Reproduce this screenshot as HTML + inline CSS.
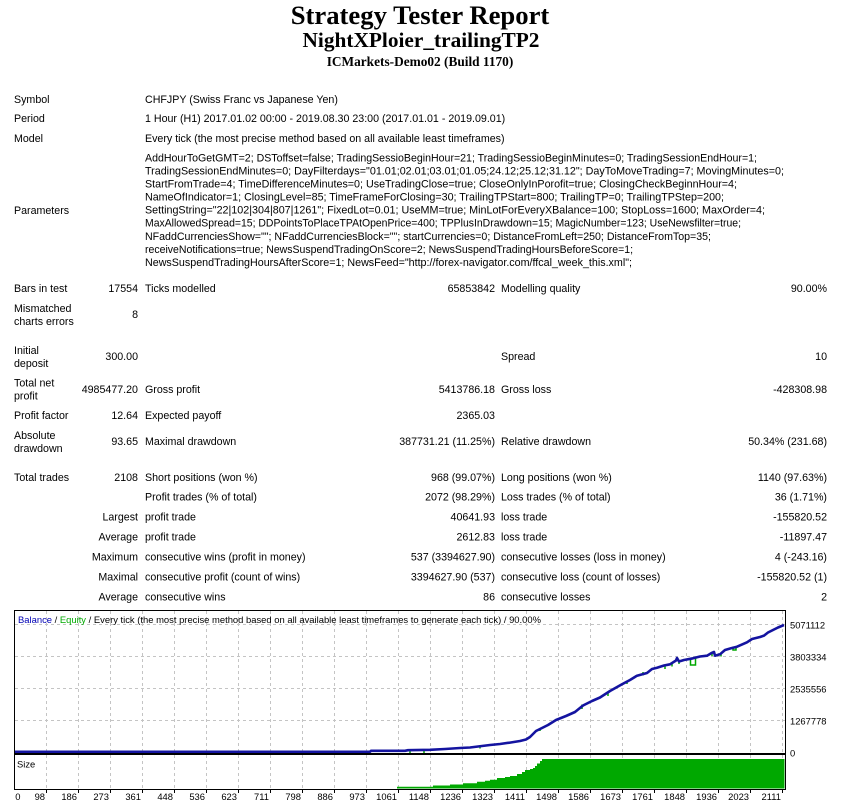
<!DOCTYPE html>
<html><head><meta charset="utf-8"><title>Strategy Tester Report</title>
<style>
html,body{margin:0;padding:0;background:#fff;}
svg{display:block;}
.t{font-family:"Liberation Sans",Arial,sans-serif;font-size:10.67px;fill:#000;}
.r{text-anchor:end;}
.c{font-family:"Liberation Sans",Arial,sans-serif;font-size:9.4px;fill:#000;}
.h{font-family:"Liberation Serif","Times New Roman",serif;font-weight:bold;fill:#000;text-anchor:middle;}
</style></head>
<body>
<svg width="853" height="805" viewBox="0 0 853 805" xmlns="http://www.w3.org/2000/svg">
<rect x="0" y="0" width="853" height="805" fill="#fff"/>
<text class="h" x="420" y="24" font-size="26.67">Strategy Tester Report</text>
<text class="h" x="421" y="47" font-size="21.33">NightXPloier_trailingTP2</text>
<text class="h" x="420" y="66" font-size="13.33">ICMarkets-Demo02 (Build 1170)</text>

<text class="t" x="14" y="103">Symbol</text>
<text class="t" x="145" y="103">CHFJPY (Swiss Franc vs Japanese Yen)</text>
<text class="t" x="14" y="122">Period</text>
<text class="t" x="145" y="122">1 Hour (H1) 2017.01.02 00:00 - 2019.08.30 23:00 (2017.01.01 - 2019.09.01)</text>
<text class="t" x="14" y="142">Model</text>
<text class="t" x="145" y="142">Every tick (the most precise method based on all available least timeframes)</text>

<text class="t" x="14" y="214">Parameters</text>
<text class="t" x="145" y="161.5" textLength="612" lengthAdjust="spacingAndGlyphs">AddHourToGetGMT=2; DSToffset=false; TradingSessioBeginHour=21; TradingSessioBeginMinutes=0; TradingSessionEndHour=1;</text>
<text class="t" x="145" y="174.5" textLength="639" lengthAdjust="spacingAndGlyphs">TradingSessionEndMinutes=0; DayFilterdays="01.01;02.01;03.01;01.05;24.12;25.12;31.12"; DayToMoveTrading=7; MovingMinutes=0;</text>
<text class="t" x="145" y="187.6" textLength="592" lengthAdjust="spacingAndGlyphs">StartFromTrade=4; TimeDifferenceMinutes=0; UseTradingClose=true; CloseOnlyInPorofit=true; ClosingCheckBeginnHour=4;</text>
<text class="t" x="145" y="200.6" textLength="579" lengthAdjust="spacingAndGlyphs">NameOfIndicator=1; ClosingLevel=85; TimeFrameForClosing=30; TrailingTPStart=800; TrailingTP=0; TrailingTPStep=200;</text>
<text class="t" x="145" y="213.7" textLength="620" lengthAdjust="spacingAndGlyphs">SettingString="22|102|304|807|1261"; FixedLot=0.01; UseMM=true; MinLotForEveryXBalance=100; StopLoss=1600; MaxOrder=4;</text>
<text class="t" x="145" y="226.7" textLength="596" lengthAdjust="spacingAndGlyphs">MaxAllowedSpread=15; DDPointsToPlaceTPAtOpenPrice=400; TPPlusInDrawdown=15; MagicNumber=123; UseNewsfilter=true;</text>
<text class="t" x="145" y="239.8" textLength="566" lengthAdjust="spacingAndGlyphs">NFaddCurrenciesShow=""; NFaddCurrenciesBlock=""; startCurrencies=0; DistanceFromLeft=250; DistanceFromTop=35;</text>
<text class="t" x="145" y="252.8" textLength="488" lengthAdjust="spacingAndGlyphs">receiveNotifications=true; NewsSuspendTradingOnScore=2; NewsSuspendTradingHoursBeforeScore=1;</text>
<text class="t" x="145" y="265.8" textLength="487" lengthAdjust="spacingAndGlyphs">NewsSuspendTradingHoursAfterScore=1; NewsFeed="http://forex-navigator.com/ffcal_week_this.xml";</text>

<!-- stats -->
<text class="t" x="14" y="292">Bars in test</text>
<text class="t r" x="138" y="292">17554</text>
<text class="t" x="145" y="292">Ticks modelled</text>
<text class="t r" x="495" y="292">65853842</text>
<text class="t" x="501" y="292">Modelling quality</text>
<text class="t r" x="827" y="292">90.00%</text>

<text class="t" x="14" y="312">Mismatched</text>
<text class="t" x="14" y="325">charts errors</text>
<text class="t r" x="138" y="318">8</text>

<text class="t" x="14" y="354">Initial</text>
<text class="t" x="14" y="367">deposit</text>
<text class="t r" x="138" y="360">300.00</text>
<text class="t" x="501" y="360">Spread</text>
<text class="t r" x="827" y="360">10</text>

<text class="t" x="14" y="386.5">Total net</text>
<text class="t" x="14" y="399.5">profit</text>
<text class="t r" x="138" y="393">4985477.20</text>
<text class="t" x="145" y="393">Gross profit</text>
<text class="t r" x="495" y="393">5413786.18</text>
<text class="t" x="501" y="393">Gross loss</text>
<text class="t r" x="827" y="393">-428308.98</text>

<text class="t" x="14" y="419">Profit factor</text>
<text class="t r" x="138" y="419">12.64</text>
<text class="t" x="145" y="419">Expected payoff</text>
<text class="t r" x="495" y="419">2365.03</text>

<text class="t" x="14" y="439">Absolute</text>
<text class="t" x="14" y="452">drawdown</text>
<text class="t r" x="138" y="445">93.65</text>
<text class="t" x="145" y="445">Maximal drawdown</text>
<text class="t r" x="495" y="445">387731.21 (11.25%)</text>
<text class="t" x="501" y="445">Relative drawdown</text>
<text class="t r" x="827" y="445">50.34% (231.68)</text>

<text class="t" x="14" y="481">Total trades</text>
<text class="t r" x="138" y="481">2108</text>
<text class="t" x="145" y="481">Short positions (won %)</text>
<text class="t r" x="495" y="481">968 (99.07%)</text>
<text class="t" x="501" y="481">Long positions (won %)</text>
<text class="t r" x="827" y="481">1140 (97.63%)</text>

<text class="t" x="145" y="500.7">Profit trades (% of total)</text>
<text class="t r" x="495" y="500.7">2072 (98.29%)</text>
<text class="t" x="501" y="500.7">Loss trades (% of total)</text>
<text class="t r" x="827" y="500.7">36 (1.71%)</text>

<text class="t r" x="138" y="520.7">Largest</text>
<text class="t" x="145" y="520.7">profit trade</text>
<text class="t r" x="495" y="520.7">40641.93</text>
<text class="t" x="501" y="520.7">loss trade</text>
<text class="t r" x="827" y="520.7">-155820.52</text>

<text class="t r" x="138" y="540.7">Average</text>
<text class="t" x="145" y="540.7">profit trade</text>
<text class="t r" x="495" y="540.7">2612.83</text>
<text class="t" x="501" y="540.7">loss trade</text>
<text class="t r" x="827" y="540.7">-11897.47</text>

<text class="t r" x="138" y="560.7">Maximum</text>
<text class="t" x="145" y="560.7">consecutive wins (profit in money)</text>
<text class="t r" x="495" y="560.7">537 (3394627.90)</text>
<text class="t" x="501" y="560.7">consecutive losses (loss in money)</text>
<text class="t r" x="827" y="560.7">4 (-243.16)</text>

<text class="t r" x="138" y="580.7">Maximal</text>
<text class="t" x="145" y="580.7">consecutive profit (count of wins)</text>
<text class="t r" x="495" y="580.7">3394627.90 (537)</text>
<text class="t" x="501" y="580.7">consecutive loss (count of losses)</text>
<text class="t r" x="827" y="580.7">-155820.52 (1)</text>

<text class="t r" x="138" y="600.3">Average</text>
<text class="t" x="145" y="600.3">consecutive wins</text>
<text class="t r" x="495" y="600.3">86</text>
<text class="t" x="501" y="600.3">consecutive losses</text>
<text class="t r" x="827" y="600.3">2</text>

<!-- chart grids -->
<g stroke="#c4c4c4" stroke-width="1" stroke-dasharray="3,3" shape-rendering="crispEdges" fill="none">
<path d="M15,624.5H785 M15,656.5H785 M15,688.5H785 M15,720.5H785"/>
<path d="M46.5,611V753 M78.5,611V753 M110.5,611V753 M142.5,611V753 M174.5,611V753 M206.5,611V753 M238.5,611V753 M270.5,611V753 M302.5,611V753 M334.5,611V753 M366.5,611V753 M398.5,611V753 M430.5,611V753 M462.5,611V753 M494.5,611V753 M526.5,611V753 M558.5,611V753 M590.5,611V753 M622.5,611V753 M654.5,611V753 M686.5,611V753 M718.5,611V753 M750.5,611V753 M782.5,611V753"/>
<path d="M46.5,755V789 M78.5,755V789 M110.5,755V789 M142.5,755V789 M174.5,755V789 M206.5,755V789 M238.5,755V789 M270.5,755V789 M302.5,755V789 M334.5,755V789 M366.5,755V789 M398.5,755V789 M430.5,755V789 M462.5,755V789 M494.5,755V789 M526.5,755V789 M558.5,755V789 M590.5,755V789 M622.5,755V789 M654.5,755V789 M686.5,755V789 M718.5,755V789 M750.5,755V789 M782.5,755V789"/>
</g>

<!-- size bars -->
<path fill="#00a800" d="M397,788.5 V786.7 H433 V785.5 H450 V784.5 H463 V783.3 H477 V781.8 H485 V780.8 H490 V779.8 H497 V778 H505 V777 H510 V776 H517 V774 H522 V772 H525 V770 H530 V769 H533 V768 H535 V766 H537 V763.5 H540 V761 H542 V759 H784.5 V788.5 Z"/>

<!-- equity excursions -->
<g stroke="#00a800" stroke-width="1.5" fill="none">
<path d="M410,751 v2.5 M424,751 v2.5 M480,745.5 v3 M540,728 v3 M582,704.5 v4.5 M608,693 v3 M627,681 v3 M643,672 v3.5 M665,664.5 v4.5 M672,663 v3.5 M679,661 v3 M690.5,658 v7 h5 v-7 M712,652 v4 M721,653.5 v3 M733,646.5 v3.5 h3 v-2"/>
</g>

<!-- balance -->
<polyline fill="none" stroke="#1414a0" stroke-width="2.6" stroke-linejoin="round" points="15,751.8 370,751.8 371,750.8 405,750.8 408,750.2 430,749.8 445,749 460,748 470,747.5 478,746.5 490,745 500,744 510,742.6 520,741 526,739.5 530,737 533,734 536,731 540,729 548,725 556,720 566,716 575,712 583,705.5 592,701 600,697.5 610,691 622,684.3 630,680 637,675.7 647,673 652,669 657,667.7 664,665.5 670,664.3 676,660.5 677,658 679,661.5 684,660 693,658.3 700,656.5 707,655.7 712,652.8 714,652 715,655.7 720,654.3 725,650 731,648.3 737,646.7 747,642.3 752,639 760,637 764,635.6 768,632.5 772,630.5 778,627.5 784,625"/>

<!-- frames -->
<g fill="none" stroke="#000" stroke-width="1" shape-rendering="crispEdges">
<rect x="14.5" y="610.5" width="771" height="143"/>
<rect x="14.5" y="754.5" width="771" height="35"/>
<path d="M46.5,790v3 M78.5,790v3 M110.5,790v3 M142.5,790v3 M174.5,790v3 M206.5,790v3 M238.5,790v3 M270.5,790v3 M302.5,790v3 M334.5,790v3 M366.5,790v3 M398.5,790v3 M430.5,790v3 M462.5,790v3 M494.5,790v3 M526.5,790v3 M558.5,790v3 M590.5,790v3 M622.5,790v3 M654.5,790v3 M686.5,790v3 M718.5,790v3 M750.5,790v3 M782.5,790v3"/>
</g>

<!-- legend -->
<text class="c" x="18" y="623" textLength="523" lengthAdjust="spacingAndGlyphs"><tspan fill="#0000b4">Balance</tspan> / <tspan fill="#00aa00">Equity</tspan> / Every tick (the most precise method based on all available least timeframes to generate each tick) / 90.00%</text>
<text class="c" x="17" y="767.5">Size</text>

<!-- right axis -->
<text class="c" x="790" y="628.3">5071112</text>
<text class="c" x="790" y="660.3">3803334</text>
<text class="c" x="790" y="692.3">2535556</text>
<text class="c" x="790" y="724.3">1267778</text>
<text class="c" x="790" y="756.5">0</text>

<!-- bottom axis -->
<g class="c" text-anchor="end">
<text x="20.5" y="800">0</text>
<text x="45" y="800">98</text>
<text x="77" y="800">186</text>
<text x="109" y="800">273</text>
<text x="141" y="800">361</text>
<text x="173" y="800">448</text>
<text x="205" y="800">536</text>
<text x="237" y="800">623</text>
<text x="269" y="800">711</text>
<text x="301" y="800">798</text>
<text x="333" y="800">886</text>
<text x="365" y="800">973</text>
<text x="397" y="800">1061</text>
<text x="429" y="800">1148</text>
<text x="461" y="800">1236</text>
<text x="493" y="800">1323</text>
<text x="525" y="800">1411</text>
<text x="557" y="800">1498</text>
<text x="589" y="800">1586</text>
<text x="621" y="800">1673</text>
<text x="653" y="800">1761</text>
<text x="685" y="800">1848</text>
<text x="717" y="800">1936</text>
<text x="749" y="800">2023</text>
<text x="781" y="800">2111</text>
</g>
</svg>
</body></html>
